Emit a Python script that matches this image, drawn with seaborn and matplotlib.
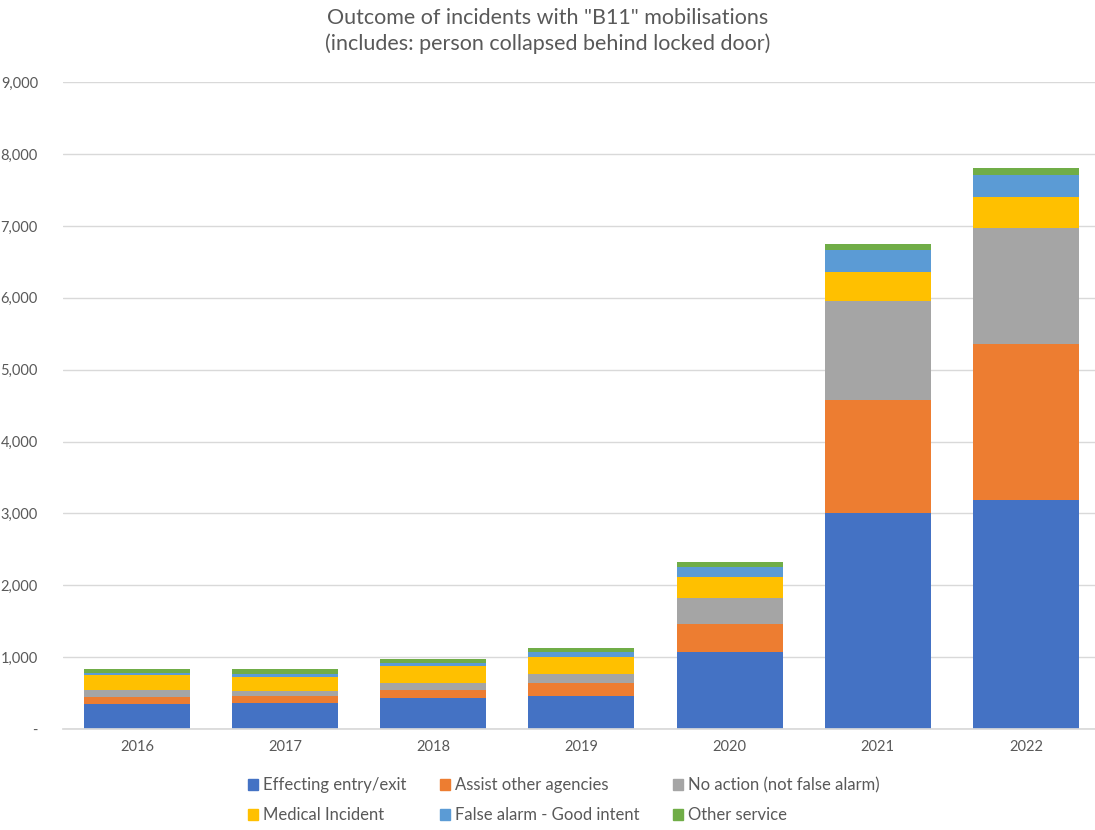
import matplotlib
matplotlib.use("Agg")
import matplotlib.pyplot as plt
import matplotlib.patches as mpatches
import matplotlib.ticker as mticker
import seaborn as sns
import numpy as np

years = ["2016", "2017", "2018", "2019", "2020", "2021", "2022"]
outcomes = ["Effecting entry/exit", "Assist other agencies", "No action (not false alarm)",
            "Medical Incident", "False alarm - Good intent", "Other service"]
entry = [343, 357, 426, 464, 1070, 3000, 3185]
assist = [102, 107, 121, 176, 390, 1576, 2170]
no_action = [97, 64, 93, 121, 360, 1373, 1610]
medical = [213, 195, 241, 245, 290, 403, 435]
false_alarm = [28, 37, 32, 61, 140, 307, 306]
other = [47, 70, 56, 55, 80, 92, 98]
colors = ["#4472C4", "#ED7D31", "#A5A5A5", "#FFC000", "#5B9BD5", "#70AD47"]

sns.set_theme(style="white")
plt.rcParams['font.family'] = ['Lato', 'DejaVu Sans']
text_col = '#595959'

fig = plt.figure(figsize=(10.95, 8.3), dpi=100)
ax = fig.add_axes([0.0575, 0.1217, 0.947, 0.7793])

series = [entry, assist, no_action, medical, false_alarm, other]
cum = np.cumsum(np.array(series), axis=0)

# draw tallest cumulative layer first, then overdraw lower ones
for i in range(len(series) - 1, -1, -1):
    sns.barplot(x=years, y=cum[i], color=colors[i], saturation=1, width=0.715,
                linewidth=0, ax=ax)

ax.set_ylim(0, 9000)
ax.set_yticks(np.arange(0, 9001, 1000))
ax.yaxis.set_major_formatter(mticker.FuncFormatter(lambda v, p: '-' if v == 0 else f'{int(v):,}'))
ax.grid(axis='y', color='#D9D9D9', linewidth=1)
ax.set_axisbelow(True)
for s in ['top', 'right', 'left']:
    ax.spines[s].set_visible(False)
ax.spines['bottom'].set_color('#D9D9D9')
ax.tick_params(axis='both', length=0, labelsize=10.5, labelcolor=text_col, pad=8)
ax.tick_params(axis='y', pad=18)
ax.set_xlabel('')
ax.set_ylabel('')

fig.suptitle('Outcome of incidents with "B11" mobilisations\n(includes: person collapsed behind locked door)',
             fontsize=15.5, color=text_col, y=0.99, linespacing=1.3)

# legend filled row by row like the original (3 columns, 2 rows)
handles = [mpatches.Patch(color=c, label=l) for c, l in zip(colors, outcomes)]
order = [0, 3, 1, 4, 2, 5]
fig.legend(handles=[handles[k] for k in order], loc='lower center', ncol=3, frameon=False,
           bbox_to_anchor=(0.515, -0.01), fontsize=12, labelcolor=text_col,
           handlelength=0.6, handleheight=0.6, handletextpad=0.3, columnspacing=2.0,
           labelspacing=0.85)

fig.savefig('out.png', dpi=100)
